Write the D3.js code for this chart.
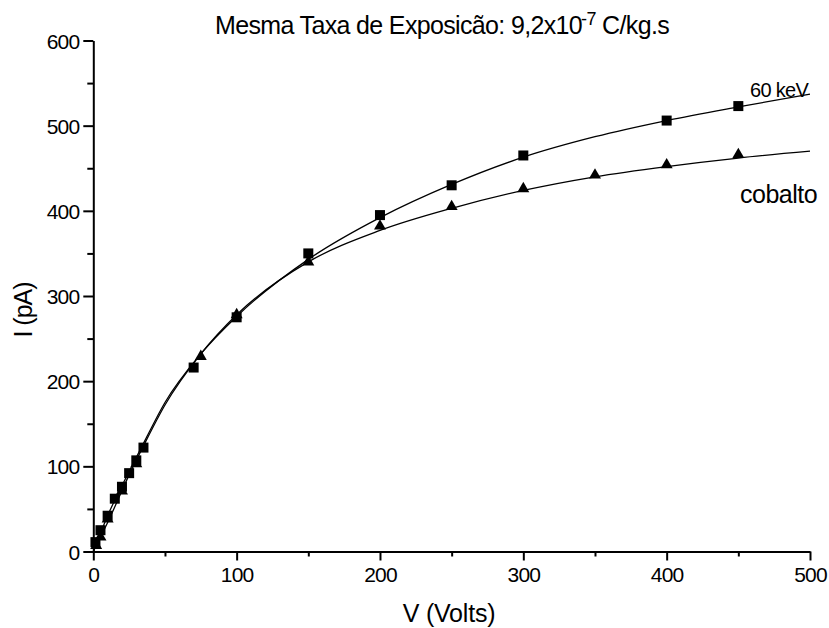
<!DOCTYPE html>
<html>
<head>
<meta charset="utf-8">
<script src="https://cdn.jsdelivr.net/npm/d3@7"></script>
<style>
  body { margin: 0; background: #fff; }
  text { font-family: "Liberation Sans", Arial, sans-serif; fill: #000; }
</style>
</head>
<body>
<svg id="chart" width="829" height="628"></svg>
<script>
// Measured points: 60 keV beam (squares)
const kevVoltage = [1.5, 5, 10, 15, 20, 25, 30, 35, 70, 100, 150, 200, 250, 300, 400, 450];
const kevCurrent = [11, 25, 42, 62, 76, 92, 107, 122, 216, 275, 350, 395, 430, 465, 506, 523];

// Measured points: cobalt source (triangles)
const coVoltage = [2, 5, 10, 20, 30, 75, 100, 150, 200, 250, 300, 350, 400, 450];
const coCurrent = [7, 17, 38, 71, 103, 229, 278, 340, 382, 405, 426, 442, 454, 466];

// Fitted saturation curves, sampled along the voltage axis
const fitVoltage = [0, 10, 25, 35, 50, 75, 100, 150, 200, 250, 300, 350, 400, 450, 500];
const kevFit = [0, 42, 94, 127, 175, 232, 276, 343, 392, 431, 463, 487, 506, 522, 537];
const coFit = [0, 34, 90, 124, 172, 232, 278, 340, 377, 403, 424, 440, 452, 462, 470];

// Axis ticks
const xMajorTicks = [0, 100, 200, 300, 400, 500];
const xMinorTicks = [50, 150, 250, 350, 450];
const yMajorTicks = [0, 100, 200, 300, 400, 500, 600];
const yMinorTicks = [50, 150, 250, 350, 450, 550];

const svg = d3.select("#chart");

const x = d3.scaleLinear().domain([0, 500]).range([93.3, 810]);
const y = d3.scaleLinear().domain([0, 600]).range([551.5, 40.5]);

// Axes
const xAxisG = svg.append("g").attr("transform", `translate(0,${y(0)})`);
xAxisG.call(d3.axisBottom(x).tickValues(xMajorTicks).tickSize(9).tickSizeOuter(0).tickPadding(4));
xAxisG.append("g").call(d3.axisBottom(x).tickValues(xMinorTicks).tickSize(5).tickFormat(""))
  .select(".domain").remove();

const yAxisG = svg.append("g").attr("transform", `translate(${x(0)},0)`);
yAxisG.call(d3.axisLeft(y).tickValues(yMajorTicks).tickSize(10).tickSizeOuter(0).tickPadding(4));
yAxisG.append("g").call(d3.axisLeft(y).tickValues(yMinorTicks).tickSize(6).tickFormat(""))
  .select(".domain").remove();

svg.selectAll(".domain, .tick line").attr("stroke", "#000").attr("stroke-width", 2);
svg.selectAll(".tick text")
  .style("font-size", "21px")
  .style("letter-spacing", "-0.8px");
xAxisG.selectAll(".tick text").attr("dy", "0.85em");
yAxisG.selectAll(".tick text").attr("dy", "0.36em");

// Fit curves
const line = (vals) => d3.line()
  .x((d, i) => x(fitVoltage[i]))
  .y(d => y(d))
  .curve(d3.curveMonotoneX)(vals);

svg.append("path").attr("d", line(kevFit))
  .attr("fill", "none").attr("stroke", "#000").attr("stroke-width", 1.3);
svg.append("path").attr("d", line(coFit))
  .attr("fill", "none").attr("stroke", "#000").attr("stroke-width", 1.3);

// Markers
const tri = d3.symbol().type(d3.symbolTriangle).size(62);
svg.append("g").selectAll("path")
  .data(coVoltage.map((v, i) => [v, coCurrent[i]]))
  .join("path")
  .attr("d", tri)
  .attr("transform", d => `translate(${x(d[0])},${y(d[1])})`)
  .attr("fill", "#000");

const sq = 10;
svg.append("g").selectAll("rect")
  .data(kevVoltage.map((v, i) => [v, kevCurrent[i]]))
  .join("rect")
  .attr("x", d => x(d[0]) - sq / 2)
  .attr("y", d => y(d[1]) - sq / 2)
  .attr("width", sq).attr("height", sq)
  .attr("fill", "#000");

// Series labels
svg.append("text").attr("x", 750).attr("y", 97)
  .style("font-size", "20px").style("letter-spacing", "-0.7px").text("60 keV");
svg.append("text").attr("x", 740).attr("y", 203)
  .style("font-size", "25px").style("letter-spacing", "-0.5px").text("cobalto");

// Axis titles
svg.append("text").attr("x", 449).attr("y", 622).attr("text-anchor", "middle")
  .style("font-size", "25px").style("letter-spacing", "-0.2px").text("V (Volts)");
svg.append("text")
  .attr("transform", "translate(32,310) rotate(-90)")
  .attr("text-anchor", "middle")
  .style("font-size", "25px").style("letter-spacing", "-1px").text("I (pA)");

// Chart title
const title = svg.append("text").attr("x", 215).attr("y", 34)
  .style("font-size", "25px").style("letter-spacing", "-0.65px");
title.append("tspan").text("Mesma Taxa de Exposicão: 9,2x10");
title.append("tspan").attr("dx", -1).attr("dy", -9).style("font-size", "18px").text("-7");
title.append("tspan").attr("dx", 0).attr("dy", 9).text(" C/kg.s");
</script>
</body>
</html>
